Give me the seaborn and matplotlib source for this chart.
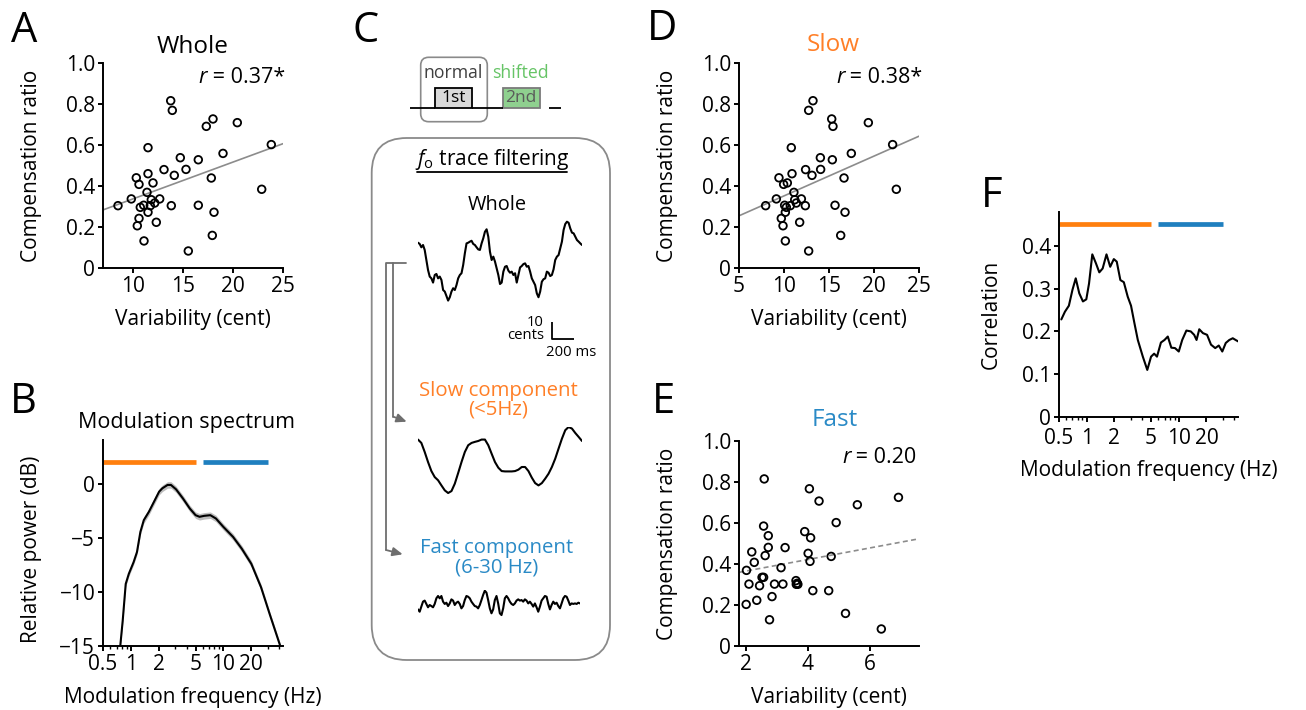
import numpy as np
import pandas as pd
import matplotlib
matplotlib.use("Agg")
import matplotlib.pyplot as plt
import seaborn as sns
from matplotlib.patches import FancyBboxPatch, Rectangle
from matplotlib.ticker import LogLocator, NullFormatter, FixedLocator

# ---------------- data ----------------
whole_var = [8.5, 9.83, 10.33, 10.6, 10.43, 10.6, 10.73, 11.07, 11.1, 11.5, 11.5, 11.4, 11.5, 11.73,
             12.0, 11.83, 12.17, 12.33, 12.67, 13.1, 13.83, 13.77, 13.93, 14.13, 14.73, 15.3, 15.53,
             16.53, 16.53, 17.33, 18.0, 17.83, 17.93, 18.1, 19.0, 20.43, 22.87, 23.83]
whole_comp = [0.304, 0.337, 0.44, 0.408, 0.206, 0.242, 0.296, 0.306, 0.132, 0.587, 0.46, 0.369, 0.272,
              0.304, 0.415, 0.333, 0.317, 0.223, 0.337, 0.48, 0.304, 0.816, 0.769, 0.452, 0.538, 0.481,
              0.083, 0.528, 0.306, 0.691, 0.727, 0.439, 0.159, 0.272, 0.559, 0.709, 0.384, 0.602]

slow_var = [7.96, 9.15, 9.44, 9.96, 10.37, 9.7, 9.89, 10.07, 10.15, 10.15, 10.26, 10.7, 10.81, 10.89,
            11.1, 11.19, 11.37, 11.74, 11.93, 12.37, 12.4, 12.74, 13.22, 13.11, 12.74, 14.04, 14.07,
            15.3, 15.44, 15.37, 15.67, 16.67, 16.3, 16.78, 17.48, 19.37, 22.48, 22.07]
slow_comp = [0.304, 0.337, 0.44, 0.408, 0.415, 0.242, 0.206, 0.306, 0.272, 0.132, 0.296, 0.304, 0.587,
             0.46, 0.369, 0.333, 0.317, 0.223, 0.337, 0.304, 0.48, 0.769, 0.816, 0.452, 0.083, 0.538,
             0.481, 0.727, 0.691, 0.528, 0.306, 0.439, 0.159, 0.272, 0.559, 0.709, 0.384, 0.602]

fast_var = [2.03, 2.11, 2.02, 2.2, 2.28, 2.36, 2.45, 2.53, 2.58, 2.6, 2.58, 2.63, 2.73, 2.73, 2.77,
            2.85, 2.93, 3.14, 3.2, 3.27, 3.62, 3.63, 3.68, 3.9, 4.01, 4.05, 4.07, 4.09, 4.16, 4.36,
            4.67, 4.75, 4.91, 5.21, 5.59, 6.36, 6.91, 3.66]
fast_comp = [0.369, 0.302, 0.203, 0.459, 0.408, 0.223, 0.294, 0.335, 0.335, 0.815, 0.585, 0.441, 0.538,
             0.481, 0.128, 0.241, 0.302, 0.382, 0.302, 0.48, 0.319, 0.301, 0.301, 0.558, 0.452, 0.767,
             0.413, 0.528, 0.27, 0.707, 0.27, 0.437, 0.602, 0.159, 0.689, 0.083, 0.725, 0.306]

r_texts = ["0.37*", "0.38*", "0.20"]

spec_freq = [0.768, 0.816, 0.88, 0.95, 1.07, 1.164, 1.267, 1.379, 1.565, 1.777, 2.02, 2.19, 2.49, 2.71,
             3.08, 3.65, 4.33, 5.0, 5.52, 6.2, 7.22, 8.3, 10.0, 12.7, 15.8, 20.0, 25.5, 31.6, 41.1]
spec_db = [-15.0, -12.67, -9.25, -8.32, -7.24, -6.3, -4.44, -3.35, -2.58, -1.65, -0.71, -0.4, -0.09,
           -0.09, -0.5, -1.34, -2.27, -2.89, -3.04, -2.95, -2.89, -3.2, -3.98, -4.9, -6.0, -7.39,
           -9.57, -12.05, -15.0]
spec_sem = [0.25, 0.25, 0.25, 0.25, 0.25, 0.25, 0.28, 0.3, 0.3, 0.3, 0.3, 0.3, 0.3, 0.3, 0.3, 0.3,
            0.3, 0.3, 0.3, 0.3, 0.3, 0.3, 0.3, 0.3, 0.3, 0.3, 0.28, 0.25, 0.25]

corr_freq = [0.53, 0.58, 0.64, 0.70, 0.76, 0.83, 0.91, 0.99, 1.06, 1.15, 1.26, 1.37, 1.49, 1.64, 1.8,
             1.97, 2.12, 2.32, 2.53, 2.79, 3.03, 3.3, 3.59, 4.07, 4.55, 5.0, 5.4, 5.8, 6.4, 7.0, 7.6,
             8.3, 9.1, 10.0, 10.9, 12.1, 13.5, 14.7, 15.6, 16.7, 18.3, 20.3, 22.4, 24.9, 27.2, 29.7,
             32.4, 35.4, 38.6, 42.2, 44.8]
corr_r = [0.228, 0.246, 0.26, 0.297, 0.324, 0.289, 0.27, 0.275, 0.312, 0.38, 0.359, 0.338, 0.347, 0.38,
          0.351, 0.369, 0.363, 0.32, 0.315, 0.281, 0.26, 0.219, 0.18, 0.141, 0.11, 0.141, 0.148, 0.141,
          0.174, 0.18, 0.188, 0.162, 0.161, 0.153, 0.18, 0.202, 0.2, 0.192, 0.18, 0.205, 0.196, 0.192,
          0.169, 0.161, 0.167, 0.153, 0.173, 0.18, 0.184, 0.179, 0.176]

band_slow = (0.5, 5.0)
band_fast = (6.0, 30.0)
band_y_db = 2.0
band_y_corr = 0.45

# f0 traces (cents)
trace_whole = [9.8, 9.1, 7.2, 8.5, 5.7, 0, -5.7, -9.4, -10.4, -12.8, -8.5, -7.9, -10.4, -9.4, -11.3,
               -17.0, -17.9, -20.4, -23.0, -21.1, -17.9, -16.0, -17.0, -14.2, -10.4, -8.5, -7.5, -2.8,
               3.8, 9.4, 9.8, 10.4, 10.9, 9.1, 8.5, 7.2, 6.0, 5.7, 9.4, 12.3, 16.0, 17.4, 13.2, 4.7, 0,
               1.9, -0.9, -4.7, -8.5, -13.6, -12.8, -6.6, -3.8, -3.4, -6.0, -7.2, -6.6, -8.5, -7.5,
               -12.8, -8.5, -4.2, -3.4, -2.3, -1.9, -3.8, -3.4, -6.6, -10.4, -12.3, -14.2, -18.9,
               -21.1, -17.9, -12.3, -10.9, -10.4, -6.6, -7.2, -9.1, -8.5, -5.3, 0, 1.9, 2.8, 6.6,
               10.4, 17.0, 20.4, 21.7, 21.1, 17.9, 15.5, 15.1, 13.2, 11.3, 10.4, 9.4, 8.5]
trace_slow = [15.5, 13.6, 8.5, 2.8, -2.3, -5.7, -7.5, -10.4, -13.2, -14.7, -13.6, -9.4, -3.4, 2.8, 8.5,
              12.3, 13.6, 14.2, 14.7, 15.5, 15.5, 12.3, 7.5, 2.8, -0.4, -2.3, -2.5, -2.5, -2.5, -2.3,
              -1.5, 0, 0, -2.3, -6.0, -9.1, -10.4, -9.1, -6.6, -3.8, 0, 4.7, 10.4, 16.0, 20.8, 22.6,
              21.7, 19.2, 17.0, 14.7]
trace_fast = [-2.5, -3.8, -0.9, 1.9, 2.5, 0.6, -1.3, 0, -0.6, -1.3, 0.6, 3.8, 5.1, 3.8, 5.1, 1.9, 0.6,
              1.3, -0.6, 0.9, 3.2, 2.5, 0, 1.3, 1.9, 0.6, -1.9, -0.6, 2.8, 5.1, 4.7, 3.8, 1.9, 0.6, -0.6,
              -0.9, -1.9, 0, 2.8, 5.7, 8.1, 7.0, 2.8, -1.9, -4.7, -2.5, 2.8, 5.1, 0.9, -4.7, -5.7, -1.9,
              3.8, 5.1, 3.8, 1.9, 0.6, 0, 0.9, 2.5, 3.2, 2.5, 2.8, 1.9, 3.2, 2.5, 0.9, 1.9, 0.6, -0.9,
              0.9, -1.3, -3.8, -0.9, 2.5, 3.8, 5.1, 4.7, 0.6, -2.5, 0, 1.9, 0.6, 1.3, -0.6, -1.9, 0.9,
              3.8, 5.1, 4.7, 2.5, 0, 0.9, 0.6, 0.9, 0.6, 1.3, 0.9]
trace_dur_ms = 1500
scale_ms = 200
scale_cents = 10

ratio_ticks = [0, 0.2, 0.4, 0.6, 0.8, 1.0]
ratio_tick_labels = ["0", "0.2", "0.4", "0.6", "0.8", "1.0"]
freq_ticks = [0.5, 1, 2, 5, 10, 20]
freq_tick_labels = ["0.5", "1", "2", "5", "10", "20"]
db_ticks = [-15, -10, -5, 0]
db_tick_labels = ["\u221215", "\u221210", "\u22125", "0"]
corr_ticks = [0, 0.1, 0.2, 0.3, 0.4]
corr_tick_labels = ["0", "0.1", "0.2", "0.3", "0.4"]

ORANGE = "#ff7f0e"
BLUE = "#1f7fbf"
ORANGE_T = "#ff7f27"
BLUE_T = "#2a8ac6"
GREEN_T = "#66c466"

# ---------------- style ----------------
sns.set_theme(style="ticks")
FONT = ["Open Sans", "DejaVu Sans"]
plt.rcParams.update({
    "font.family": FONT,
    "mathtext.fontset": "custom",
    "mathtext.it": "Open Sans:italic",
    "mathtext.rm": "Open Sans",
    "axes.linewidth": 1.4,
    "axes.edgecolor": "black",
    "xtick.major.width": 1.4, "ytick.major.width": 1.4,
    "xtick.minor.width": 1.0,
    "xtick.major.size": 3.6, "ytick.major.size": 3.6,
    "xtick.minor.size": 2.2,
    "xtick.major.pad": 2.5, "ytick.major.pad": 2.0,
    "xtick.labelsize": 15, "ytick.labelsize": 15,
    "axes.labelsize": 15,
    "xtick.color": "black", "ytick.color": "black",
    "text.color": "black", "axes.labelcolor": "black",
})

W, H = 1306, 710
fig = plt.figure(figsize=(W / 100, H / 100), dpi=100)


def px_axes(l, t, r, b):
    return fig.add_axes([l / W, 1 - b / H, (r - l) / W, (b - t) / H])


ov = fig.add_axes([0, 0, 1, 1])
ov.set_xlim(0, W)
ov.set_ylim(H, 0)
ov.axis("off")
ov.patch.set_visible(False)
ov.set_zorder(10)


def scatter_panel(ax, x, y, xlim, xticks, dashed, xlab_top, ylab_x):
    ax.set_xlim(xlim)
    ax.set_ylim(0, 1.0)
    sns.regplot(x=np.array(x), y=np.array(y), ax=ax, scatter=False, ci=None, truncate=False,
                line_kws=dict(color="#8c8c8c", lw=1.2, ls=(0, (3, 2)) if dashed else "-"))
    sns.scatterplot(x=x, y=y, ax=ax, s=30, facecolor="none", edgecolor="black",
                    linewidth=1.3, zorder=3, clip_on=False)
    ax.set_xlim(xlim)
    ax.set_ylim(0, 1.0)
    ax.set_xticks(xticks)
    ax.set_xticklabels([str(v) for v in xticks])
    ax.set_yticks(ratio_ticks)
    ax.set_yticklabels(ratio_tick_labels)
    ax.set_xlabel("Variability (cent)")
    ax.set_ylabel("Compensation ratio")
    ax.xaxis.set_label_coords(0.5, xlab_top, transform=ax.transAxes)
    ax.yaxis.set_label_coords(ylab_x, 0.5, transform=ax.transAxes)
    sns.despine(ax=ax)


# ---- A ----
axA = px_axes(103, 63, 283, 268)
scatter_panel(axA, whole_var, whole_comp, (7, 25), [10, 15, 20, 25], False, -0.2, -0.34)
# ---- D ----
axD = px_axes(739, 63, 919, 268)
scatter_panel(axD, slow_var, slow_comp, (5, 25), [5, 10, 15, 20, 25], False, -0.2, -0.34)
# ---- E ----
axE = px_axes(739, 441, 919, 646)
scatter_panel(axE, fast_var, fast_comp, (1.79, 7.57), [2, 4, 6], True, -0.2, -0.34)


def log_axis(ax):
    ax.set_xscale("log")
    ax.set_xlim(0.5, 44)
    ax.xaxis.set_major_locator(FixedLocator(freq_ticks))
    ax.set_xticklabels(freq_tick_labels)
    ax.xaxis.set_minor_locator(LogLocator(base=10, subs=np.arange(2, 10)))
    ax.xaxis.set_minor_formatter(NullFormatter())


# ---- B ----
axB = px_axes(103, 440, 283, 646)
axB.set_xscale("log")
lo = [d - s for d, s in zip(spec_db, spec_sem)]
hi = [d + s for d, s in zip(spec_db, spec_sem)]
axB.fill_between(spec_freq, lo, hi, color="#bdbdbd", lw=0, zorder=1)
sns.lineplot(x=spec_freq, y=spec_db, ax=axB, color="black", lw=1.5, zorder=2)
axB.hlines(band_y_db, *band_slow, color=ORANGE, lw=3.4, capstyle="butt")
axB.hlines(band_y_db, *band_fast, color=BLUE, lw=3.4, capstyle="butt")
log_axis(axB)
axB.set_ylim(-15, 4.07)
axB.set_yticks(db_ticks)
axB.set_yticklabels(db_tick_labels)
axB.set_xlabel("Modulation frequency (Hz)")
axB.set_ylabel("Relative power (dB)")
axB.xaxis.set_label_coords(0.5, -0.2, transform=axB.transAxes)
axB.yaxis.set_label_coords(-0.34, 0.47, transform=axB.transAxes)
sns.despine(ax=axB)

# ---- F ----
axF = px_axes(1059, 212, 1238, 417)
axF.set_xscale("log")
sns.lineplot(x=corr_freq, y=corr_r, ax=axF, color="black", lw=1.5)
axF.hlines(band_y_corr, *band_slow, color=ORANGE, lw=3.4, capstyle="butt")
axF.hlines(band_y_corr, *band_fast, color=BLUE, lw=3.4, capstyle="butt")
log_axis(axF)
axF.set_ylim(0, 0.479)
axF.set_yticks(corr_ticks)
axF.set_yticklabels(corr_tick_labels)
axF.tick_params(axis="x", which="major", pad=4.0)
axF.set_xlabel("Modulation frequency (Hz)")
axF.set_ylabel("Correlation")
axF.xaxis.set_label_coords(0.5, -0.21, transform=axF.transAxes)
axF.yaxis.set_label_coords(-0.32, 0.5, transform=axF.transAxes)
sns.despine(ax=axF)

# ---- C traces ----
def trace_axes(l, t, r, b, vals, half):
    ax = px_axes(l, t, r, b)
    tt = np.linspace(0, trace_dur_ms, len(vals))
    sns.lineplot(x=tt, y=vals, ax=ax, color="black", lw=1.5)
    ax.set_xlim(0, trace_dur_ms)
    ax.set_ylim(-half, half)
    ax.axis("off")
    ax.patch.set_visible(False)
    return ax

axW = trace_axes(418, 215, 582, 305, trace_whole, 25.5)
axS = trace_axes(418, 427, 582, 507, trace_slow, 22.6)
axFa = trace_axes(418, 590, 580, 620, trace_fast, 8.5)

# scale bar on whole trace
sx0 = 1223
sy0 = -45
axW.plot([sx0, sx0, sx0 + scale_ms], [sy0 + scale_cents, sy0, sy0], color="black", lw=1.3,
         clip_on=False, solid_capstyle="butt")
axW.text(sx0 - 75, sy0 + 9.5, "10", ha="right", va="center", fontsize=10.7, clip_on=False)
axW.text(sx0 - 65, sy0 + 2.0, "cents", ha="right", va="center", fontsize=10.7, clip_on=False)
axW.text(sx0 + 180, sy0 - 7.5, "200 ms", ha="center", va="center", fontsize=10.7, clip_on=False)

# ---- C schematic (overlay, pixel coordinates) ----
GREY = "#8a8a8a"
ov.add_patch(FancyBboxPatch((420.7, 57.3), 66.6, 64.4, boxstyle="round,pad=0,rounding_size=8",
                            fc="none", ec=GREY, lw=1.2))
ov.text(453.3, 72.7, "normal", ha="center", va="center", fontsize=12.7, color="#404040")
ov.text(520, 72.7, "shifted", ha="center", va="center", fontsize=12.7, color=GREEN_T)
for x0, x1 in [(410, 435), (471.7, 502.7), (549, 561)]:
    ov.plot([x0, x1], [108.3, 108.3], color="black", lw=1.3, solid_capstyle="butt")
ov.add_patch(Rectangle((435, 88.3), 36.7, 19.5, fc="#d9d9d9", ec="black", lw=1.3))
ov.text(453.3, 98, "1st", ha="center", va="center", fontsize=12.5, color="black")
ov.add_patch(Rectangle((502.7, 88.3), 37.3, 19.5, fc="#8fd08f", ec="#7a7a7a", lw=1.3))
ov.text(521.3, 98, "2nd", ha="center", va="center", fontsize=12.5, color="#5a5a5a")

ov.add_patch(FancyBboxPatch((371.7, 138), 238.3, 522, boxstyle="round,pad=0,rounding_size=35",
                            fc="none", ec=GREY, lw=1.3))
ov.text(492, 160, r"$\mathit{f}_{\mathrm{o}}$ trace filtering", ha="center", va="center", fontsize=15)
ov.plot([417, 567], [172, 172], color="black", lw=1.3)
ov.text(497, 205, "Whole", ha="center", va="center", fontsize=14.4)

AC = "#6e6e6e"
ov.plot([406, 386, 386], [263.3, 263.3, 550], color=AC, lw=1.3)
ov.plot([393.3, 393.3], [263.3, 416.7], color=AC, lw=1.3)
ap = dict(arrowstyle="-|>,head_length=0.5,head_width=0.22", color=AC, lw=1.3, shrinkA=0, shrinkB=0)
ov.annotate("", xy=(406.7, 421.7), xytext=(393.3, 416.7), arrowprops=ap)
ov.annotate("", xy=(402.7, 554.3), xytext=(386, 550), arrowprops=ap)

ov.text(498.3, 390.7, "Slow component", ha="center", va="center", fontsize=14.7, color=ORANGE_T)
ov.text(498.3, 410, "(<5Hz)", ha="center", va="center", fontsize=14.7, color=ORANGE_T)
ov.text(496.7, 548.3, "Fast component", ha="center", va="center", fontsize=14.7, color=BLUE_T)
ov.text(496.7, 567.3, "(6-30 Hz)", ha="center", va="center", fontsize=14.7, color=BLUE_T)

# ---- titles, r values, panel letters ----
ov.text(193, 53.3, "Whole", ha="center", va="baseline", fontsize=17.5)
ov.text(833.7, 50.7, "Slow", ha="center", va="baseline", fontsize=17.5, color=ORANGE_T)
ov.text(835, 425.7, "Fast", ha="center", va="baseline", fontsize=17.5, color=BLUE_T)
ov.text(186.7, 428, "Modulation spectrum", ha="center", va="baseline", fontsize=15.5)

renderer = fig.canvas.get_renderer()


def r_label(x, y, val):
    t = ov.text(x, y, " = " + val, ha="right", va="baseline", fontsize=15.5)
    bb = t.get_window_extent(renderer=renderer)
    xl = ov.transData.inverted().transform((bb.x0, bb.y0))[0]
    ov.text(xl, y, "r", ha="right", va="baseline", fontsize=15.5, fontstyle="italic")


r_label(285, 83.3, r_texts[0])
r_label(922.7, 82.7, r_texts[1])
r_label(916.7, 462.7, r_texts[2])

for lab, x, y in [("A", 24.5, 41.7), ("B", 23, 413), ("C", 366, 41.7), ("D", 662, 40),
                  ("E", 664, 413), ("F", 992, 207)]:
    ov.text(x, y, lab, ha="center", va="baseline", fontsize=30)

fig.savefig("out.png", dpi=100)
